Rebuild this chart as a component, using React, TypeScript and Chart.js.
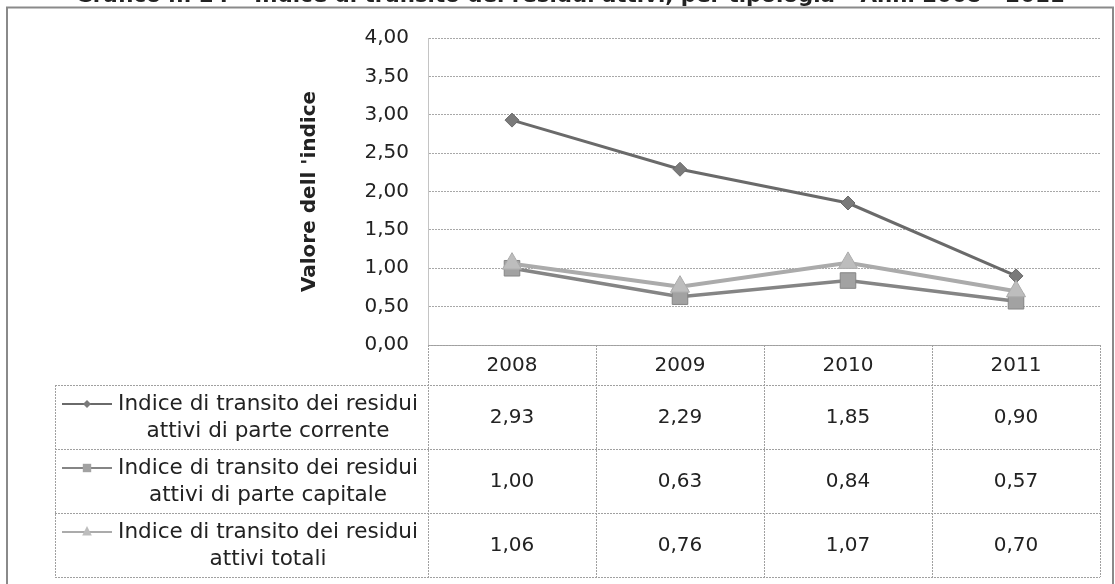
import React, { useEffect, useRef } from "react";
import { Chart, registerables } from "chart.js";

Chart.register(...registerables);

const TITLE = "Grafico n. 24 – Indice di transito dei residui attivi, per tipologia – Anni 2008 - 2011";
const Y_TITLE = "Valore dell 'indice";
const YEARS = ["2008", "2009", "2010", "2011"];
const CORRENTE = [2.93, 2.29, 1.85, 0.9];
const CAPITALE = [1.0, 0.63, 0.84, 0.57];
const TOTALI = [1.06, 0.76, 1.07, 0.7];
const LABEL_CORRENTE = ["Indice di transito dei residui", "attivi di parte corrente"];
const LABEL_CAPITALE = ["Indice di transito dei residui", "attivi di parte capitale"];
const LABEL_TOTALI = ["Indice di transito dei residui", "attivi totali"];
const Y_MIN = 0;
const Y_MAX = 4;
const Y_STEP = 0.5;

const FONT = "'DejaVu Sans', Verdana, sans-serif";
const fmt = (v: number) => v.toFixed(2).replace(".", ",");

const COLORS = ["#6a6a6a", "#858585", "#ababab"];
const FILLS = ["#7a7a7a", "#a2a2a2", "#bdbdbd"];
const MARKERS = ["rectRot", "rect", "triangle"];

function drawMarker(ctx: CanvasRenderingContext2D, style: string, x: number, y: number, r: number, color: string) {
  ctx.save();
  ctx.fillStyle = color;
  ctx.beginPath();
  if (style === "rectRot") {
    ctx.moveTo(x, y - r);
    ctx.lineTo(x + r, y);
    ctx.lineTo(x, y + r);
    ctx.lineTo(x - r, y);
  } else if (style === "rect") {
    ctx.rect(x - r * 0.7, y - r * 0.7, r * 1.4, r * 1.4);
  } else {
    ctx.moveTo(x, y - r);
    ctx.lineTo(x + r * 0.8, y + r * 0.6);
    ctx.lineTo(x - r * 0.8, y + r * 0.6);
  }
  ctx.closePath();
  ctx.fill();
  ctx.restore();
}

const tablePlugin = {
  id: "tablePlugin",
  afterDraw(chart: any) {
    const ctx: CanvasRenderingContext2D = chart.ctx;
    const { left, right, bottom } = chart.chartArea;
    const xs = chart.scales.x;
    const colW = (right - left) / YEARS.length;
    const headerH = 40;
    const rowH = 64;
    const labelLeft = 55;
    const rowsData = [
      { label: LABEL_CORRENTE, values: CORRENTE },
      { label: LABEL_CAPITALE, values: CAPITALE },
      { label: LABEL_TOTALI, values: TOTALI },
    ];
    const tableBottom = bottom + headerH + rowH * rowsData.length;

    ctx.save();
    // title (cut at top)
    let tSize = 20;
    ctx.font = `bold ${tSize}px ${FONT}`;
    const tw = ctx.measureText(TITLE).width;
    tSize = (tSize * 990) / tw;
    ctx.font = `bold ${tSize}px ${FONT}`;
    ctx.fillStyle = "#222";
    ctx.textAlign = "center";
    ctx.textBaseline = "alphabetic";
    ctx.fillText(TITLE, 570, 2);

    // outer border
    ctx.strokeStyle = "#8a8a8a";
    ctx.lineWidth = 2;
    ctx.strokeRect(7, 7.5, 1106, 590);

    // table lines
    ctx.strokeStyle = "#a0a0a0";
    ctx.lineWidth = 1;
    ctx.setLineDash([2, 1]);
    const hline = (x1: number, x2: number, y: number) => {
      ctx.beginPath();
      ctx.moveTo(x1, Math.round(y) + 0.5);
      ctx.lineTo(x2, Math.round(y) + 0.5);
      ctx.stroke();
    };
    const vline = (x: number, y1: number, y2: number) => {
      ctx.beginPath();
      ctx.moveTo(Math.round(x) + 0.5, y1);
      ctx.lineTo(Math.round(x) + 0.5, y2);
      ctx.stroke();
    };
    hline(left, right, bottom);
    for (let i = 0; i <= rowsData.length; i++) hline(labelLeft, right, bottom + headerH + rowH * i);
    vline(labelLeft, bottom + headerH, tableBottom);
    for (let i = 0; i <= YEARS.length; i++) vline(left + colW * i, bottom, tableBottom);
    ctx.setLineDash([]);

    // header
    ctx.fillStyle = "#222";
    ctx.textAlign = "center";
    ctx.textBaseline = "middle";
    ctx.font = `20px ${FONT}`;
    YEARS.forEach((y, i) => {
      ctx.fillText(y, xs.getPixelForValue(i), bottom + headerH / 2 + 1);
    });

    // rows
    rowsData.forEach((row, r) => {
      const cy = bottom + headerH + rowH * r + rowH / 2;
      ctx.font = `20px ${FONT}`;
      ctx.fillStyle = "#222";
      ctx.textAlign = "center";
      row.values.forEach((v, i) => {
        ctx.fillText(fmt(v), xs.getPixelForValue(i), cy + 1);
      });
      // legend symbol
      const sy = cy - 13;
      ctx.strokeStyle = COLORS[r];
      ctx.lineWidth = 2;
      ctx.beginPath();
      ctx.moveTo(62, sy);
      ctx.lineTo(112, sy);
      ctx.stroke();
      drawMarker(ctx, MARKERS[r], 87, sy, r === 0 ? 4 : 6, FILLS[r]);
      // label text
      let fs = 18;
      ctx.font = `${fs}px ${FONT}`;
      const w = ctx.measureText(row.label[0]).width;
      fs = (fs * 300) / w;
      ctx.font = `${fs}px ${FONT}`;
      ctx.fillStyle = "#222";
      ctx.textAlign = "center";
      ctx.fillText(row.label[0], 268, cy - 13);
      ctx.fillText(row.label[1], 268, cy + 14);
    });
    ctx.restore();
  },
};

export default function App() {
  const ref = useRef<HTMLCanvasElement>(null);
  useEffect(() => {
    if (!ref.current) return;
    const mk = (label: string, data: number[], i: number, radius: number, width: number) => ({
      label,
      data,
      borderColor: COLORS[i],
      backgroundColor: FILLS[i],
      pointBorderColor: COLORS[i],
      borderWidth: width,
      pointStyle: MARKERS[i],
      pointRadius: radius,
      pointBorderWidth: 1,
      tension: 0,
    });
    const chart = new Chart(ref.current, {
      type: "line",
      data: {
        labels: YEARS,
        datasets: [
          mk(LABEL_TOTALI.join(" "), TOTALI, 2, 11, 4),
          mk(LABEL_CAPITALE.join(" "), CAPITALE, 1, 11, 3.5),
          mk(LABEL_CORRENTE.join(" "), CORRENTE, 0, 7, 3),
        ],
      },
      options: {
        animation: false,
        responsive: false,
        devicePixelRatio: 1,
        layout: { padding: { left: 296, right: 15, top: 38, bottom: 239 } },
        plugins: { legend: { display: false }, tooltip: { enabled: false }, title: { display: false } },
        scales: {
          x: {
            type: "category",
            offset: true,
            display: false,
          },
          y: {
            min: Y_MIN,
            max: Y_MAX,
            afterFit: (s: any) => {
              s.width = 132;
            },
            ticks: {
              stepSize: Y_STEP,
              padding: 19,
              color: "#222",
              font: { family: FONT, size: 20 },
              callback: (v: any) => fmt(Number(v)),
            },
            grid: { color: "#a8a8a8", drawTicks: false, lineWidth: 1 },
            border: { display: true, color: "#c4c4c4", dash: [2, 1] },
            title: {
              display: true,
              text: Y_TITLE,
              color: "#222",
              font: { family: FONT, size: 20, weight: "bold" },
              padding: 2,
            },
          },
        },
      } as any,
      plugins: [tablePlugin],
    });
    return () => chart.destroy();
  }, []);
  return (
    <div style={{ position: "absolute", left: 0, top: 0, width: 1115, height: 584, background: "#fff" }}>
      <canvas ref={ref} width={1115} height={584} style={{ display: "block" }} />
    </div>
  );
}
